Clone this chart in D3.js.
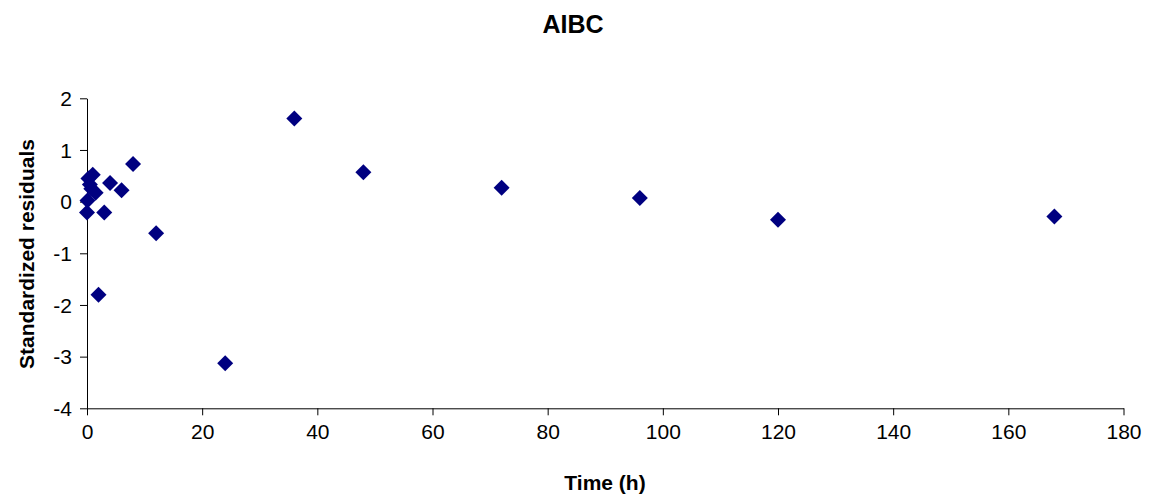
<!DOCTYPE html>
<html><head><meta charset="utf-8">
<script src="https://cdn.jsdelivr.net/npm/d3@7"></script>
<style>body{margin:0;background:#fff;}svg{display:block;font-family:"Liberation Sans",Arial,sans-serif;}</style>
</head><body>
<script>
const times = [0, 0.083, 0.25, 0.5, 0.75, 1, 1.5, 2, 3, 4, 6, 8, 12, 24, 36, 48, 72, 96, 120, 168];
const residuals = [-0.21, 0.02, 0.45, 0.33, 0.25, 0.52, 0.17, -1.80, -0.21, 0.36, 0.22, 0.73, -0.61, -3.13, 1.61, 0.57, 0.27, 0.07, -0.35, -0.29];
const xTicks = [0, 20, 40, 60, 80, 100, 120, 140, 160, 180];
const yTicks = [-4, -3, -2, -1, 0, 1, 2];
const title = "AIBC", xTitle = "Time (h)", yTitle = "Standardized residuals";

const W = 1152, H = 499;
const m = {left: 87, right: 1123.5, top: 98.3, bottom: 408.3};
const svg = d3.select("body").append("svg").attr("width", W).attr("height", H);
const x = d3.scaleLinear().domain([0, 180]).range([m.left, m.right]);
const y = d3.scaleLinear().domain([-4, 2]).range([m.bottom, m.top]);
const fmt = d => String(d);

const xa = svg.append("g").attr("transform", `translate(0,${m.bottom})`)
  .call(d3.axisBottom(x).tickValues(xTicks).tickFormat(fmt).tickSize(7).tickSizeOuter(0).tickPadding(9));
const ya = svg.append("g").attr("transform", `translate(${m.left},0)`)
  .call(d3.axisLeft(y).tickValues(yTicks).tickFormat(fmt).tickSize(7).tickSizeOuter(0).tickPadding(8));
[xa, ya].forEach(a => {
  a.selectAll("path,line").attr("stroke", "#000").attr("stroke-width", 1);
  a.selectAll("text").attr("font-size", 21).attr("fill", "#000").attr("font-family", "'Liberation Sans',Arial,sans-serif");
});
ya.selectAll("text").attr("dy", "0.35em");

svg.append("g").selectAll("path").data(times).join("path")
  .attr("transform", (d, i) => `translate(${x(d)},${y(residuals[i])}) rotate(45)`)
  .attr("d", d3.symbol().type(d3.symbolSquare).size(128))
  .attr("fill", "#000080");

svg.append("text").attr("x", 573).attr("y", 33).attr("text-anchor", "middle")
  .attr("font-size", 25).attr("font-weight", "bold").text(title);
svg.append("text").attr("x", 605).attr("y", 490).attr("text-anchor", "middle")
  .attr("font-size", 21).attr("font-weight", "bold").text(xTitle);
svg.append("text").attr("transform", `translate(34,${254}) rotate(-90)`)
  .attr("text-anchor", "middle").attr("font-size", 21).attr("font-weight", "bold").text(yTitle);
</script>
</body></html>
